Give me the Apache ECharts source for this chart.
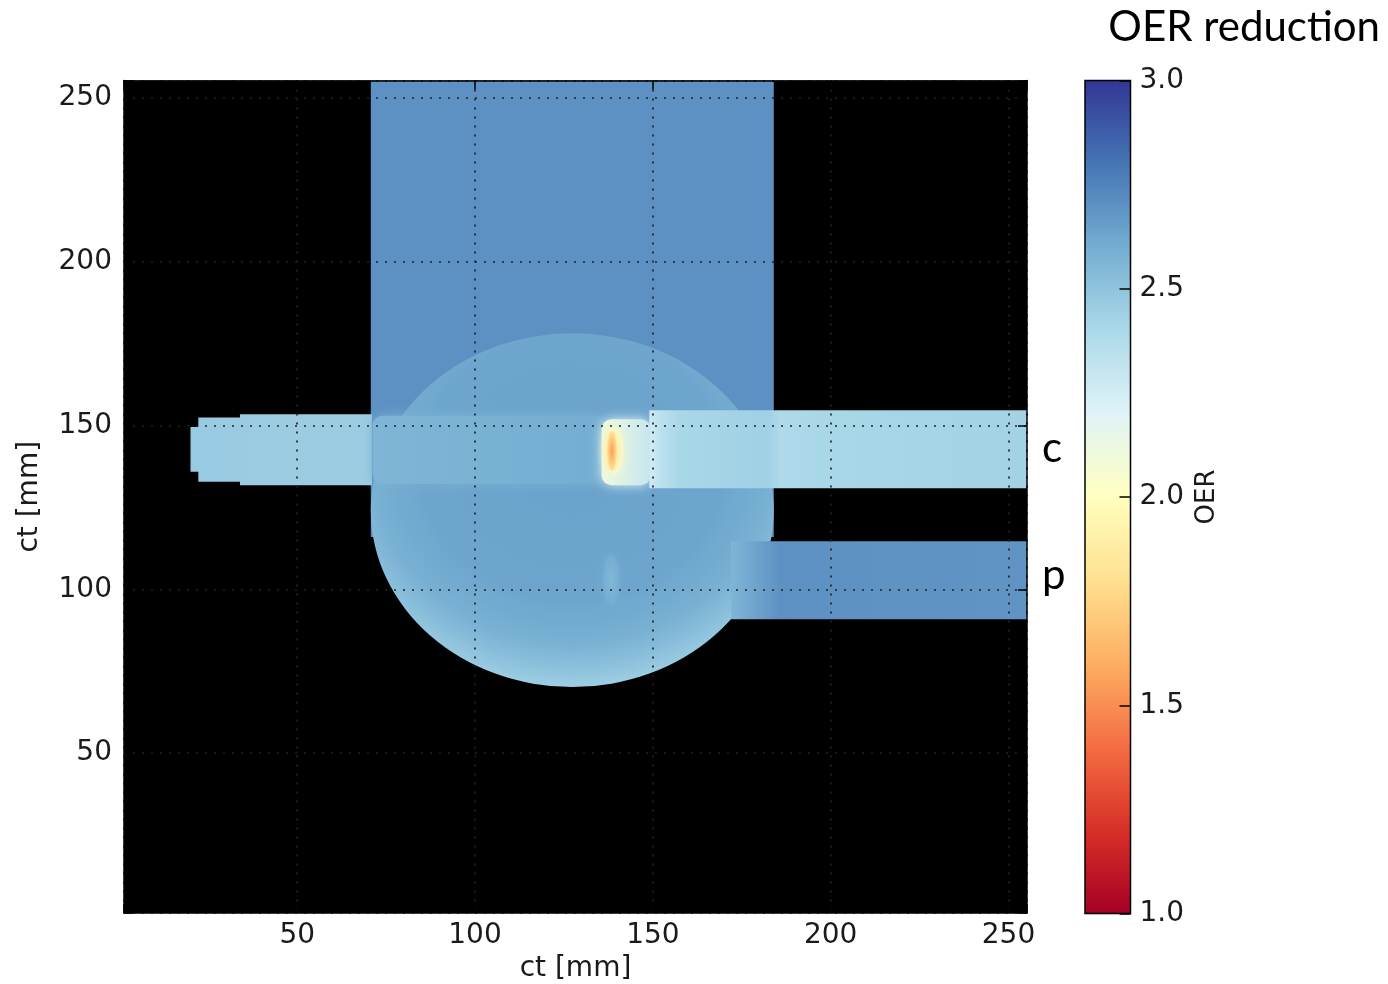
<!DOCTYPE html>
<html>
<head>
<meta charset="utf-8">
<title>OER reduction</title>
<script src="https://cdn.jsdelivr.net/npm/echarts@6/dist/echarts.min.js"></script>
<style>
  html, body { margin: 0; padding: 0; background: #fff; }
  #main { width: 1388px; height: 984px; }
</style>
</head>
<body>
<div id="main"></div>
<script>
// axis extents in mm
const xExtent = [1.3, 255.2];
const yExtent = [1.2, 255.4];
const oerTicks = [1.0, 1.5, 2.0, 2.5, 3.0];
// RdYlBu, OER 1.0 (red) -> 3.0 (blue)
const rdYlBu = ['#a50026', '#d73027', '#f46d43', '#fdae61', '#fee090', '#ffffbf',
  '#e0f3f8', '#abd9e9', '#74add1', '#4575b4', '#313695'];

// beam outlines [x, y] in mm and OER profiles along x: [x, OER]
const verticalBeamOutline = [[70.7, 116.0], [184.0, 116.0], [184.0, 255.4], [70.7, 255.4]];
const verticalBeamProfile = [[70.7, 2.70], [184.0, 2.70]];
const leftBeamOutline = [[20.0, 135.9], [22.2, 135.9], [22.2, 132.9], [33.9, 132.9], [33.9, 131.8],
  [71.0, 131.8], [71.0, 153.5], [33.9, 153.5], [33.9, 152.5], [22.2, 152.5], [22.2, 149.6], [20.0, 149.6]];
const leftBeamProfile = [[20.0, 2.47], [50.0, 2.46], [71.0, 2.46]];
const beamPOutline = [[172.0, 90.9], [255.2, 90.9], [255.2, 114.7], [172.0, 114.7]];
const beamPProfile = [[172.0, 2.56], [186.0, 2.70], [255.2, 2.69]];
const beamCOutline = [[149.0, 130.9], [255.2, 130.9], [255.2, 154.7], [149.0, 154.7]];
const beamCProfile = [[149.0, 2.30], [158.0, 2.41], [182.0, 2.44], [186.0, 2.39], [198.0, 2.41], [255.2, 2.43]];

// phantom: [cx, cy, rx, ry, OER centre, OER rim]
const phantom = [[127.35, 124.2, 56.65, 54.0, 2.64, 2.45]];
// soft patches: [x0, x1, y0, y1, OER at x0, OER at x1]
const stripeC = [[71.2, 136.5, 132.2, 153.0, 2.56, 2.60]];
const peakGlow = [[135.6, 149.4, 131.8, 152.0, 2.10, 2.30]];
// spots: [cx, cy, rx, ry, OER centre, OER edge]
const peakSpots = [
  [139.0, 142.4, 2.7, 7.0, 1.92, 2.06],
  [138.5, 142.3, 1.4, 6.0, 1.56, 1.82],
  [138.3, 102.8, 2.4, 7.8, 2.55, 2.60]
];

const FONT = 'DejaVu Sans';
const oerColor = v => echarts.color.lerp((v - 1) / 2, rdYlBu);

const beams = [
  { outline: verticalBeamOutline, profile: verticalBeamProfile },
  { outline: leftBeamOutline, profile: leftBeamProfile },
  { outline: beamPOutline, profile: beamPProfile },
  { outline: beamCOutline, profile: beamCProfile }
];

function beamItem(params, api) {
  const b = beams[api.value(0)];
  const xs = b.outline.map(p => p[0]);
  const x0 = Math.min.apply(null, xs), x1 = Math.max.apply(null, xs);
  return {
    type: 'polygon',
    shape: { points: b.outline.map(p => api.coord(p)) },
    style: {
      fill: new echarts.graphic.LinearGradient(0, 0, 1, 0,
        b.profile.map(s => ({ offset: (s[0] - x0) / (x1 - x0), color: oerColor(s[1]) })))
    }
  };
}

function softItem(params, api) {
  const a = api.coord([api.value(0), api.value(3)]);
  const b = api.coord([api.value(1), api.value(2)]);
  const v0 = api.value(4), v1 = api.value(5);
  return {
    type: 'rect',
    shape: { x: a[0], y: a[1], width: b[0] - a[0], height: b[1] - a[1], r: 10 },
    style: {
      fill: new echarts.graphic.LinearGradient(0, 0, 1, 0, [
        { offset: 0, color: oerColor(v0) },
        { offset: 1, color: oerColor(v1) }
      ]),
      shadowBlur: 12,
      shadowColor: oerColor((v0 + v1) / 2)
    }
  };
}

function phantomItem(params, api) {
  const c = api.coord([api.value(0), api.value(1)]);
  const s = api.size([api.value(2), api.value(3)]);
  const v0 = api.value(4), v1 = api.value(5);
  return {
    type: 'circle',
    x: c[0], y: c[1], scaleY: s[1] / s[0],
    shape: { cx: 0, cy: 0, r: s[0] },
    style: {
      fill: new echarts.graphic.RadialGradient(0.5, 0.38, 0.62, [
        { offset: 0, color: oerColor(v0) },
        { offset: 0.6, color: oerColor(v0 - 0.01) },
        { offset: 0.8, color: oerColor(v0 - 0.06) },
        { offset: 0.9, color: oerColor(v0 - 0.12) },
        { offset: 1, color: oerColor(v1) }
      ])
    }
  };
}

function spotItem(params, api) {
  const c = api.coord([api.value(0), api.value(1)]);
  const s = api.size([api.value(2), api.value(3)]);
  const v0 = api.value(4), v1 = api.value(5);
  return {
    type: 'circle',
    x: c[0], y: c[1], scaleY: s[1] / s[0],
    shape: { cx: 0, cy: 0, r: s[0] },
    style: {
      fill: new echarts.graphic.RadialGradient(0.5, 0.5, 0.5, [
        { offset: 0, color: oerColor(v0) },
        { offset: 1, color: oerColor(v1) }
      ]),
      shadowBlur: 8,
      shadowColor: oerColor(v1)
    }
  };
}

function colorbarItem(params, api) {
  const a = api.coord([0, oerTicks[oerTicks.length - 1]]);
  const b = api.coord([1, oerTicks[0]]);
  return {
    type: 'rect',
    shape: { x: a[0], y: a[1], width: b[0] - a[0], height: b[1] - a[1] },
    style: {
      fill: new echarts.graphic.LinearGradient(0, 1, 0, 0,
        rdYlBu.map((c, i) => ({ offset: i / (rdYlBu.length - 1), color: c }))),
      stroke: '#000',
      lineWidth: 1.5
    }
  };
}

const frameAxis = {
  axisLine: { show: true, onZero: false, lineStyle: { color: '#000', width: 1.5 } },
  axisTick: { show: true, inside: true, length: 9, lineStyle: { color: '#000', width: 1.5 } }
};
const tickLabel = {
  fontSize: 28, fontFamily: FONT, color: '#1a1a1a',
  formatter: v => (v % 50 === 0 ? String(v) : '')
};
const gridLine = { show: true, lineStyle: { color: '#222', width: 1.7, type: [2, 7] } };

function field(renderItem, data, z) {
  return {
    type: 'custom', coordinateSystem: 'cartesian2d',
    xAxisIndex: 0, yAxisIndex: 0, clip: true, silent: true, z: z,
    renderItem: renderItem, data: data
  };
}

const chart = echarts.init(document.getElementById('main'));
chart.setOption({
  animation: false,
  backgroundColor: '#fff',
  grid: [
    {
      left: 124, top: 80.5, width: 903, height: 832.5, show: true, backgroundColor: '#000', borderWidth: 0,
      containLabel: false, outerBoundsMode: 'none'
    },
    { left: 1085, top: 80.5, width: 45.5, height: 833, containLabel: false, outerBoundsMode: 'none' }
  ],
  xAxis: [
    Object.assign({
      type: 'value', gridIndex: 0, position: 'bottom', min: xExtent[0], max: xExtent[1], z: 10,
      name: 'ct [mm]', nameLocation: 'middle', nameGap: 42,
      nameTextStyle: { fontSize: 28, fontFamily: FONT, color: '#1a1a1a' },
      axisLabel: Object.assign({ margin: 9 }, tickLabel),
      splitLine: gridLine
    }, frameAxis),
    Object.assign({
      type: 'value', gridIndex: 0, position: 'top', min: xExtent[0], max: xExtent[1], z: 10,
      axisLabel: { show: false }, splitLine: { show: false }
    }, frameAxis),
    { type: 'value', gridIndex: 1, min: 0, max: 1, show: false }
  ],
  yAxis: [
    Object.assign({
      type: 'value', gridIndex: 0, position: 'left', min: yExtent[0], max: yExtent[1], z: 10,
      name: 'ct [mm]', nameLocation: 'middle', nameGap: 80,
      nameTextStyle: { fontSize: 28, fontFamily: FONT, color: '#1a1a1a' },
      axisLabel: Object.assign({ margin: 12 }, tickLabel),
      splitLine: gridLine
    }, frameAxis),
    Object.assign({
      type: 'value', gridIndex: 0, position: 'right', min: yExtent[0], max: yExtent[1], z: 10,
      axisLabel: { show: false }, splitLine: { show: false }
    }, frameAxis),
    {
      type: 'value', gridIndex: 1, position: 'right', z: 10,
      min: oerTicks[0], max: oerTicks[oerTicks.length - 1], interval: 0.5,
      name: 'OER', nameLocation: 'middle', nameGap: 64, nameRotate: 90,
      nameTextStyle: { fontSize: 26, fontFamily: FONT, color: '#1a1a1a' },
      axisLine: { show: false, onZero: false },
      axisTick: { show: true, inside: true, length: 11, lineStyle: { color: '#000', width: 1.5 } },
      axisLabel: { margin: 9, fontSize: 28, fontFamily: FONT, color: '#1a1a1a', formatter: v => v.toFixed(1) },
      splitLine: { show: false }
    }
  ],
  graphic: [
    { type: 'text', right: 8, top: 6, style: { text: 'OER reduction', font: '42px Lato', fill: '#000' } },
    { type: 'text', left: 1042, top: 427, style: { text: 'c', font: '42px Lato', fill: '#000' } },
    { type: 'text', left: 1042, top: 554, style: { text: 'p', font: '42px Lato', fill: '#000' } }
  ],
  series: [
    field(beamItem, [[0]], 2),
    field(phantomItem, phantom, 3),
    field(beamItem, [[1], [2], [3]], 4),
    field(softItem, stripeC, 5),
    field(softItem, peakGlow, 6),
    field(spotItem, peakSpots, 7),
    {
      type: 'custom', coordinateSystem: 'cartesian2d', xAxisIndex: 2, yAxisIndex: 2, z: 3,
      silent: true, renderItem: colorbarItem, data: [[0, 1]]
    }
  ]
});
window.addEventListener('resize', () => chart.resize());
</script>
</body>
</html>
